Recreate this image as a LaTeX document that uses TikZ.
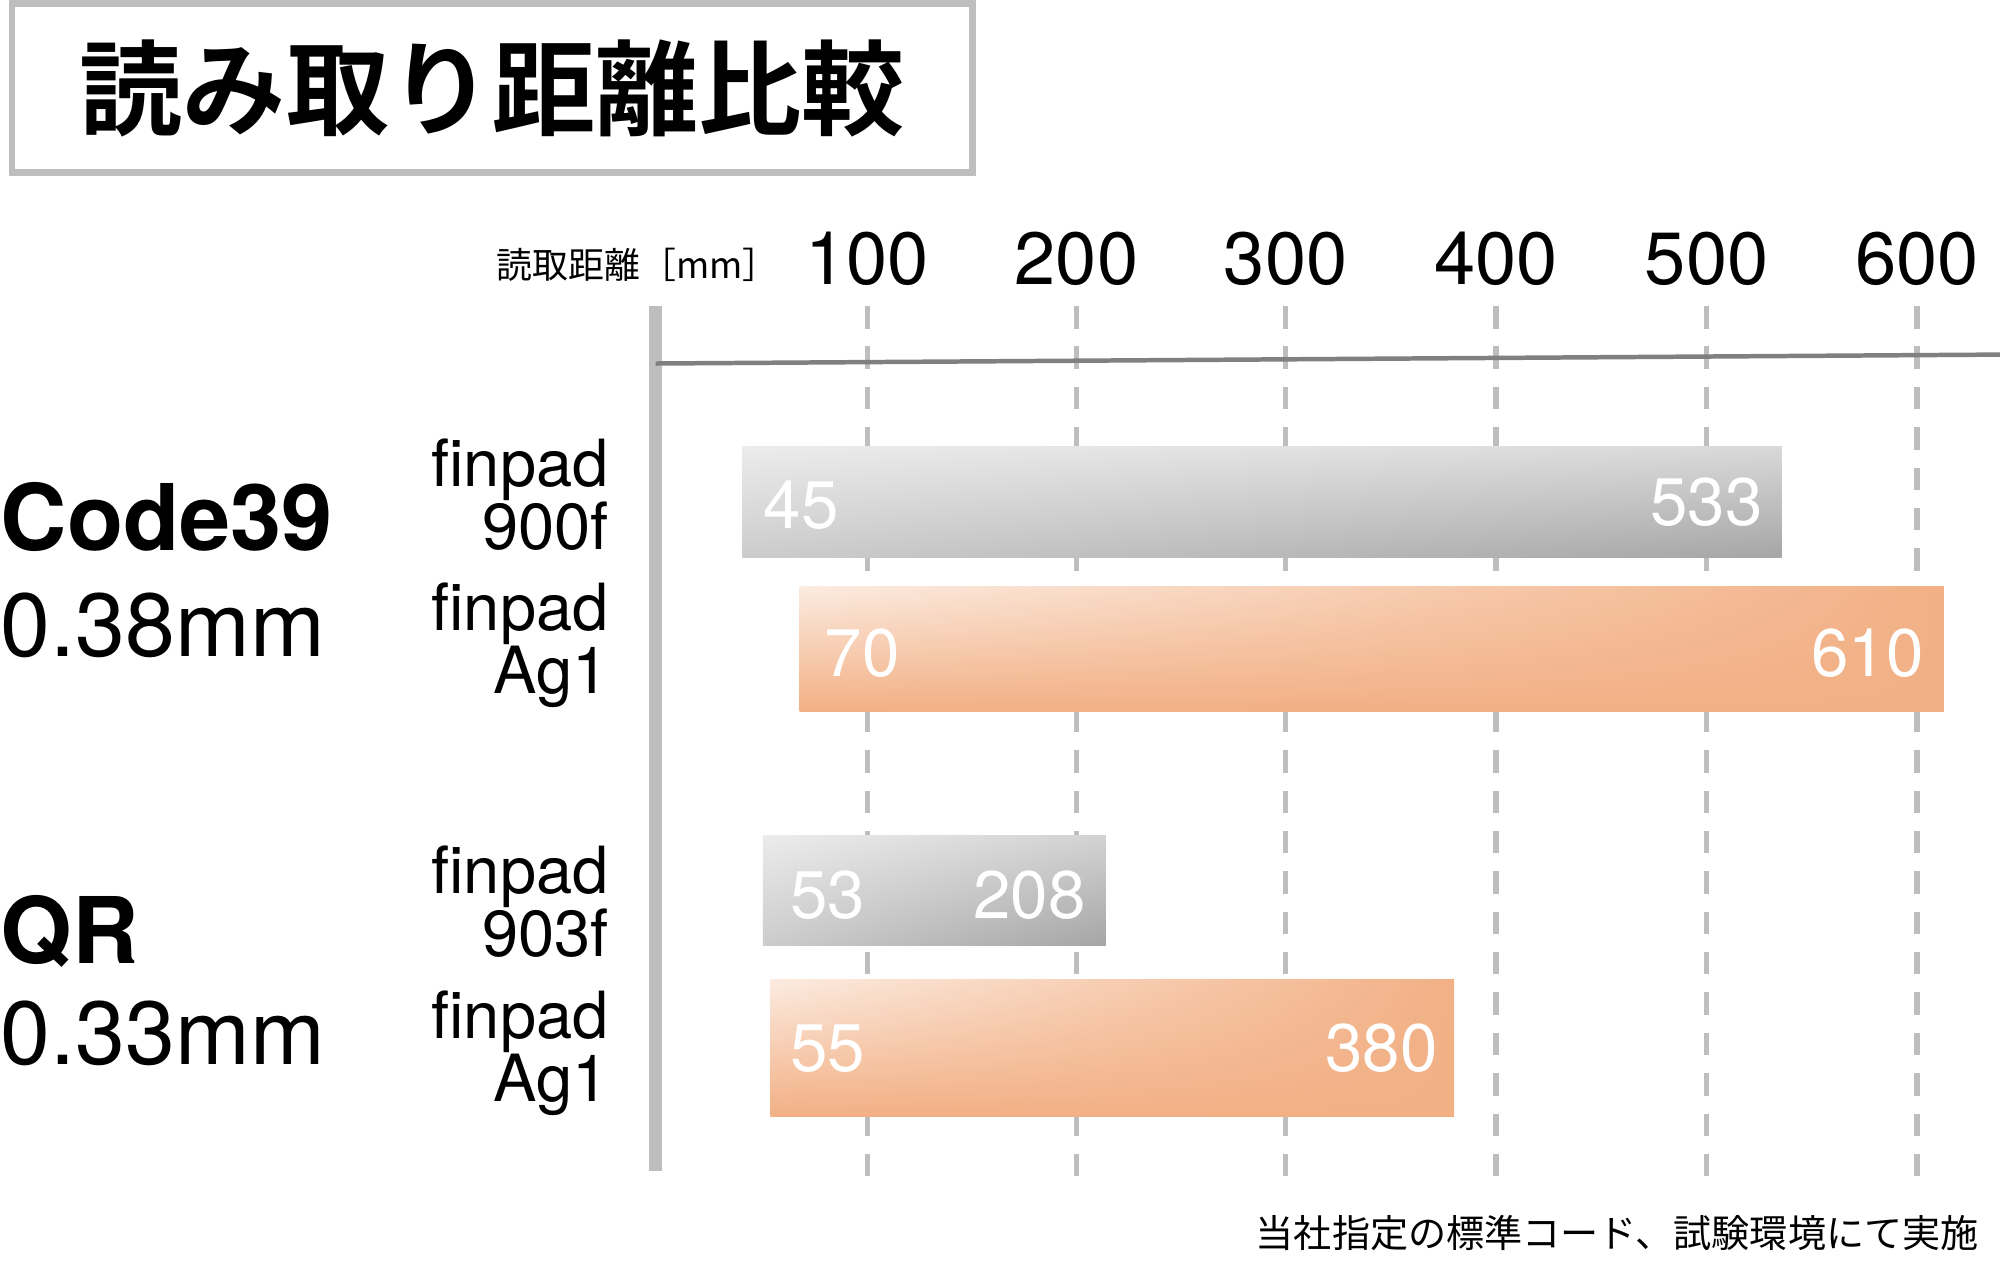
\documentclass[tikz,border=0pt]{standalone}
\usepackage{fontspec}
\setmainfont{TeX Gyre Heros}
\newfontfamily\jp{Noto Sans CJK JP}
\newfontfamily\jpbold{Noto Sans CJK JP Bold}
\usetikzlibrary{positioning,shadings}
\definecolor{barorange}{RGB}{242,176,133}
\definecolor{gridgray}{RGB}{190,190,190}

\begin{document}
\begin{tikzpicture}[x=0.01cm,y=-0.01cm,
  tick/.style={font=\fontsize{16.5}{16.5}\selectfont},
  barval/.style={text=white,font=\fontsize{15}{15}\selectfont},
  devname/.style={anchor=east,align=right,font=\fontsize{14.5}{14}\selectfont,inner sep=0pt},
  grid/.style={gridgray,line width=1.2pt,dash pattern=on 5pt off 4pt}]
\useasboundingbox (0,0) rectangle (1568,988);

% title
\node[draw=gridgray,line width=1.5pt,minimum width=753*0.01cm,minimum height=132*0.01cm,
  font=\jpbold\fontsize{23}{23}\selectfont] (title) at (386,69) {読み取り距離比較};

% axis
\node[font=\jp\fontsize{8}{9}\selectfont] (unit) at (500,208) {読取距離［mm］};
\foreach \v/\x in {100/680,200/844,300/1008,400/1173,500/1338,600/1503} {
  \node[tick] (t\v) at (\x,203) {\v};
  \draw[grid] (\x,240) -- (\x,925);
}
\coordinate (axtop) at (514,240);
\coordinate (axbot) at (514,918);
\coordinate (axend) at (1568,278);
\draw[gridgray,line width=3pt] (axtop) -- (axbot);
\draw[gray,line width=1pt] (514,285) -- (axend);

% bars
\shade[upper left=gray!15,upper right=gray!30,lower left=gray!40,lower right=gray!70]
  (582,350) rectangle (1397,437);
\shade[upper left=barorange!25,upper right=barorange,lower left=barorange,lower right=barorange]
  (627,460) rectangle (1524,558);
\shade[upper left=gray!15,upper right=gray!35,lower left=gray!40,lower right=gray!70]
  (598,655) rectangle (867,741);
\shade[upper left=barorange!25,upper right=barorange,lower left=barorange,lower right=barorange]
  (604,768) rectangle (1140,875);

\node[barval] (a1) at (628,396) {45};
\node[barval] (a2) at (1338,394) {533};
\node[barval] (b1) at (676,512) {70};
\node[barval] (b2) at (1464,512) {610};
\node[barval] (c1) at (649,702) {53};
\node[barval] (c2) at (807,702) {208};
\node[barval] (d1) at (649,822) {55};
\node[barval] (d2) at (1083,822) {380};

% device names
\node[devname] (n1) at (478,388) {finpad\\900f};
\node[devname] (n2) at (478,506) {finpad\\Ag1};
\node[devname] (n3) at (478,707) {finpad\\903f};
\node[devname] (n4) at (478,826) {finpad\\Ag1};

% code types
\node[anchor=west,inner sep=0pt,font=\bfseries\fontsize{20.5}{20}\selectfont] (code) at (0,405) {Code39};
\node[anchor=west,inner sep=0pt,font=\fontsize{20}{20}\selectfont] (codew) at (0,490) {0.38mm};
\node[anchor=west,inner sep=0pt,font=\bfseries\fontsize{20.5}{20}\selectfont] (qr) at (0,730) {QR};
\node[anchor=west,inner sep=0pt,font=\fontsize{20}{20}\selectfont] (qrw) at (0,810) {0.33mm};

\node[anchor=east,inner sep=0pt,font=\jp\fontsize{8.5}{9}\selectfont] (note) at (1552,967) {当社指定の標準コード、試験環境にて実施};
\end{tikzpicture}
\end{document}
